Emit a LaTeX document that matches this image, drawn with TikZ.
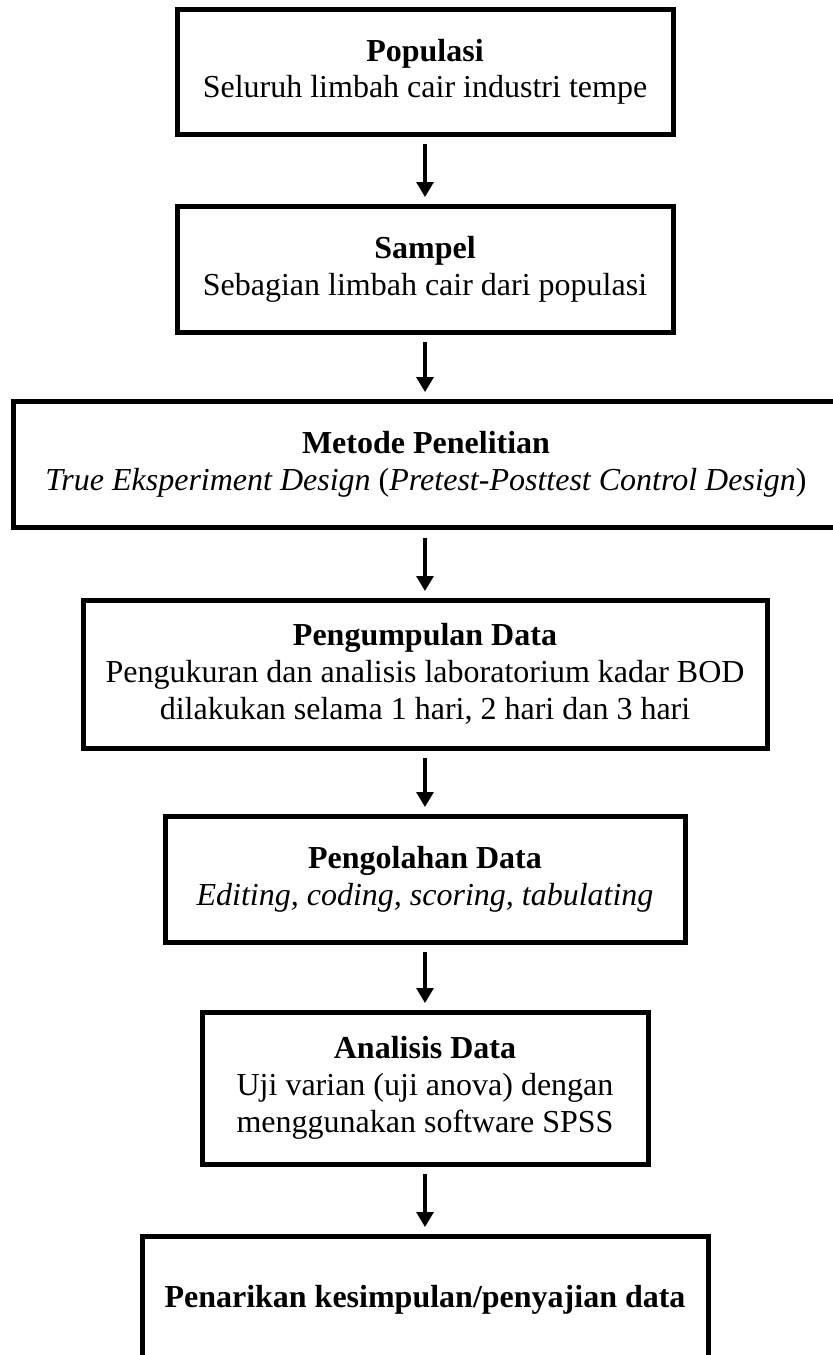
\documentclass[tikz,border=0pt]{standalone}
\usepackage{fontspec}
\setmainfont{Liberation Serif}
\usetikzlibrary{arrows.meta}
\tikzset{
  stepbox/.style={
    draw, rectangle, line width=1.875pt, inner sep=0pt, align=center,
    font=\fontsize{12pt}{13.8pt}\selectfont
  },
  flowarrow/.style={
    line width=1.75pt, -{Triangle[width=6.2pt, length=5.6pt]},
    shorten <=2.8pt, shorten >=2.4pt
  }
}

\begin{document}
\begin{tikzpicture}[x=0.375pt, y=-0.375pt]
    \useasboundingbox (0,0) rectangle (833,1355);

    % Boxes of the research flow
    \node[stepbox, minimum width=186pt, minimum height=46.7pt] (populasi) at (425,71.75)
        {\textbf{Populasi}\\Seluruh limbah cair industri tempe};
    \node[stepbox, minimum width=186pt, minimum height=47.25pt] (sampel) at (425,269)
        {\textbf{Sampel}\\Sebagian limbah cair dari populasi};
    \node[stepbox, minimum width=309.75pt, minimum height=47.6pt] (metode) at (426,464.5)
        {\textbf{Metode Penelitian}\\\textit{True Eksperiment Design} (\textit{Pretest-Posttest Control Design})};
    \node[stepbox, minimum width=256.5pt, minimum height=55.5pt] (pengumpulan) at (425,674)
        {\textbf{Pengumpulan Data}\\Pengukuran dan analisis laboratorium kadar BOD\\dilakukan selama 1 hari, 2 hari dan 3 hari};
    \node[stepbox, minimum width=195pt, minimum height=47.25pt] (pengolahan) at (425,879)
        {\textbf{Pengolahan Data}\\\textit{Editing, coding, scoring, tabulating}};
    \node[stepbox, minimum width=167.25pt, minimum height=57pt] (analisis) at (425,1088)
        {\textbf{Analisis Data}\\Uji varian (uji anova) dengan\\menggunakan software SPSS};
    \node[stepbox, minimum width=212.25pt, minimum height=48pt] (penarikan) at (425,1300)
        {\textbf{Penarikan kesimpulan/penyajian data}};

    % Arrows between the steps
    \draw[flowarrow] (populasi) -- (sampel);
    \draw[flowarrow] (sampel) -- (metode.north -| sampel.south);
    \draw[flowarrow] (metode.south -| pengumpulan.north) -- (pengumpulan);
    \draw[flowarrow] (pengumpulan) -- (pengolahan);
    \draw[flowarrow] (pengolahan) -- (analisis);
    \draw[flowarrow] (analisis) -- (penarikan);

\end{tikzpicture}
\end{document}
